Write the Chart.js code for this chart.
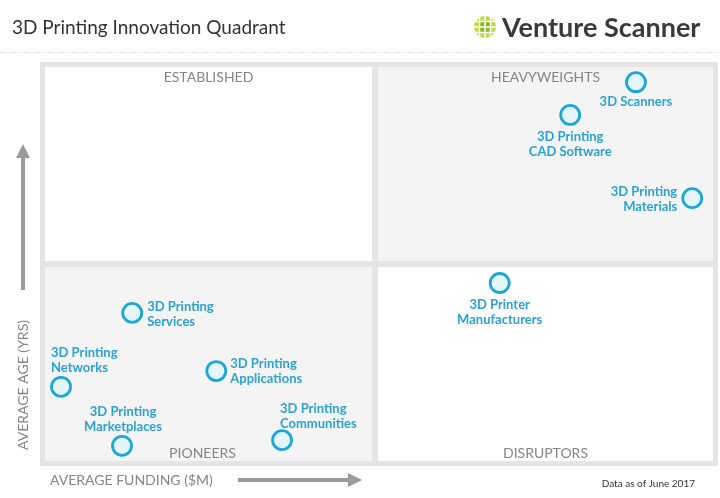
<!DOCTYPE html>
<html>
<head>
<meta charset="utf-8">
<script src="https://cdn.jsdelivr.net/npm/chart.js@4/dist/chart.umd.min.js"></script>
<style>
  body { margin: 0; background: #fff; }
  #wrap { width: 720px; height: 498px; }
</style>
</head>
<body>
<div id="wrap"><canvas id="chart" width="720" height="498"></canvas></div>
<script>
// segments and their position (funding %, age %)
const segments = [
  "3D Scanners",
  "3D Printing CAD Software",
  "3D Printing Materials",
  "3D Printer Manufacturers",
  "3D Printing Services",
  "3D Printing Networks",
  "3D Printing Applications",
  "3D Printing Marketplaces",
  "3D Printing Communities",
];
const funding = [87.9, 78.2, 96.2, 67.8, 13.6, 3.1, 26.0, 12.1, 35.7];
const age = [95.0, 86.9, 66.3, 45.3, 37.9, 19.6, 23.5, 5.0, 6.4];
const labelLines = [
  ["3D Scanners"],
  ["3D Printing", "CAD Software"],
  ["3D Printing", "Materials"],
  ["3D Printer", "Manufacturers"],
  ["3D Printing", "Services"],
  ["3D Printing", "Networks"],
  ["3D Printing", "Applications"],
  ["3D Printing", "Marketplaces"],
  ["3D Printing", "Communities"],
];
const quadrants = ["ESTABLISHED", "HEAVYWEIGHTS", "PIONEERS", "DISRUPTORS"];

// where each label sits relative to its circle: dx, dy of first line, align
const labelPlace = [
  [0, 20, "center"],
  [0, 22, "center"],
  [-15, -6, "right"],
  [0, 22, "center"],
  [15, -6, "left"],
  [-10, -34, "left"],
  [14, -7, "left"],
  [1, -34, "center"],
  [-2, -31, "left"],
];

const LABEL_BLUE = "#2ba2d5";

const quadrantPlugin = {
  id: "quadrant",
  beforeDraw(chart) {
    const { ctx, chartArea: a } = chart;
    ctx.save();
    ctx.fillStyle = "#fff";
    ctx.fillRect(0, 0, chart.width, chart.height);

    // dotted separator under the header
    ctx.strokeStyle = "#cfcfcf";
    ctx.lineWidth = 1;
    ctx.setLineDash([1, 2]);
    ctx.beginPath();
    ctx.moveTo(0, 52.5);
    ctx.lineTo(chart.width, 52.5);
    ctx.stroke();
    ctx.setLineDash([]);

    // frame
    ctx.fillStyle = "#e5e5e5";
    ctx.fillRect(a.left, a.top, a.right - a.left, a.bottom - a.top);
    const midX = (a.left + a.right) / 2 - 4;
    const midY = (a.top + a.bottom) / 2;
    const b = 5, g = 3;
    const cells = [
      [a.left + b, a.top + b, midX - g, midY - g, "#ffffff"],
      [midX + g, a.top + b, a.right - b, midY - g, "#f4f4f4"],
      [a.left + b, midY + g, midX - g, a.bottom - b, "#f4f4f4"],
      [midX + g, midY + g, a.right - b, a.bottom - b, "#ffffff"],
    ];
    cells.forEach((c) => {
      ctx.fillStyle = c[4];
      ctx.fillRect(c[0], c[1], c[2] - c[0], c[3] - c[1]);
    });

    // quadrant names
    ctx.fillStyle = "#858585";
    ctx.font = "14px Lato";
    ctx.textAlign = "center";
    ctx.textBaseline = "middle";
    ctx.fillText(quadrants[0], (cells[0][0] + cells[0][2]) / 2, 77);
    ctx.fillText(quadrants[1], (cells[1][0] + cells[1][2]) / 2, 77);
    ctx.fillText(quadrants[2], (cells[2][0] + cells[2][2]) / 2 - 6, 453);
    ctx.fillText(quadrants[3], (cells[3][0] + cells[3][2]) / 2, 453);
    ctx.restore();
  },
  afterDatasetsDraw(chart) {
    const { ctx } = chart;
    const meta = chart.getDatasetMeta(0);
    ctx.save();
    ctx.fillStyle = LABEL_BLUE;
    ctx.font = "bold 13px Lato";
    ctx.textBaseline = "middle";
    meta.data.forEach((pt, i) => {
      const [dx, dy, align] = labelPlace[i];
      ctx.textAlign = align;
      labelLines[i].forEach((line, j) => {
        ctx.fillText(line, pt.x + dx, pt.y + dy + j * 15);
      });
    });
    ctx.restore();
  },
  afterDraw(chart) {
    const { ctx } = chart;
    ctx.save();
    // title
    ctx.fillStyle = "#333";
    ctx.font = "19px Lato";
    ctx.textBaseline = "middle";
    ctx.textAlign = "left";
    ctx.fillText("3D Printing Innovation Quadrant", 12, 28);

    // logo mark: green disc cut by a white grid
    const cx = 485, cy = 27, r = 11;
    ctx.save();
    ctx.beginPath();
    ctx.arc(cx, cy, r, 0, Math.PI * 2);
    ctx.clip();
    ctx.fillStyle = "#c2da4a";
    ctx.fillRect(cx - r, cy - r, 2 * r, 2 * r);
    ctx.fillStyle = "#8dbb2c";
    ctx.fillRect(cx - 5.5, cy - 5.5, 11, 11);
    ctx.fillStyle = "#fff";
    for (const o of [-5.5, 0, 5.5]) {
      ctx.fillRect(cx + o - 0.7, cy - r, 1.4, 2 * r);
      ctx.fillRect(cx - r, cy + o - 0.7, 2 * r, 1.4);
    }
    ctx.restore();

    ctx.fillStyle = "#3a3a3a";
    ctx.font = "bold 27px Lato";
    ctx.fillText("Venture Scanner", 502, 28);

    // axis titles and arrows
    ctx.fillStyle = "#858585";
    ctx.font = "14px Lato";
    ctx.fillText("AVERAGE FUNDING ($M)", 50, 480);
    ctx.fillStyle = "#9a9a9a";
    ctx.fillRect(238, 478, 112, 4);
    ctx.beginPath();
    ctx.moveTo(362, 480);
    ctx.lineTo(348, 473);
    ctx.lineTo(348, 487);
    ctx.closePath();
    ctx.fill();

    ctx.save();
    ctx.translate(23, 385);
    ctx.rotate(-Math.PI / 2);
    ctx.fillStyle = "#858585";
    ctx.textAlign = "center";
    ctx.fillText("AVERAGE AGE (YRS)", 0, 0);
    ctx.restore();
    ctx.fillStyle = "#9a9a9a";
    ctx.fillRect(21, 156, 4, 134);
    ctx.beginPath();
    ctx.moveTo(23, 144);
    ctx.lineTo(16, 158);
    ctx.lineTo(30, 158);
    ctx.closePath();
    ctx.fill();

    ctx.fillStyle = "#333";
    ctx.font = "10px Lato";
    ctx.textAlign = "right";
    ctx.fillText("Data as of June 2017", 695, 484);
    ctx.restore();
  },
};

new Chart(document.getElementById("chart"), {
  type: "scatter",
  data: {
    datasets: [
      {
        label: "Segments",
        data: funding.map((f, i) => ({ x: f, y: age[i], name: segments[i] })),
        pointRadius: 9.5,
        pointHoverRadius: 9.5,
        borderWidth: 2.8,
        borderColor: "#1ba8d4",
        backgroundColor: "#e4f6fb",
      },
    ],
  },
  options: {
    responsive: false,
    devicePixelRatio: 1,
    animation: false,
    layout: { autoPadding: false, padding: { left: 40, right: 2, top: 62, bottom: 32 } },
    scales: {
      x: { display: false, min: 0, max: 100 },
      y: { display: false, min: 0, max: 100 },
    },
    plugins: {
      legend: { display: false },
      tooltip: { enabled: false },
    },
  },
  plugins: [quadrantPlugin],
});
</script>
</body>
</html>
